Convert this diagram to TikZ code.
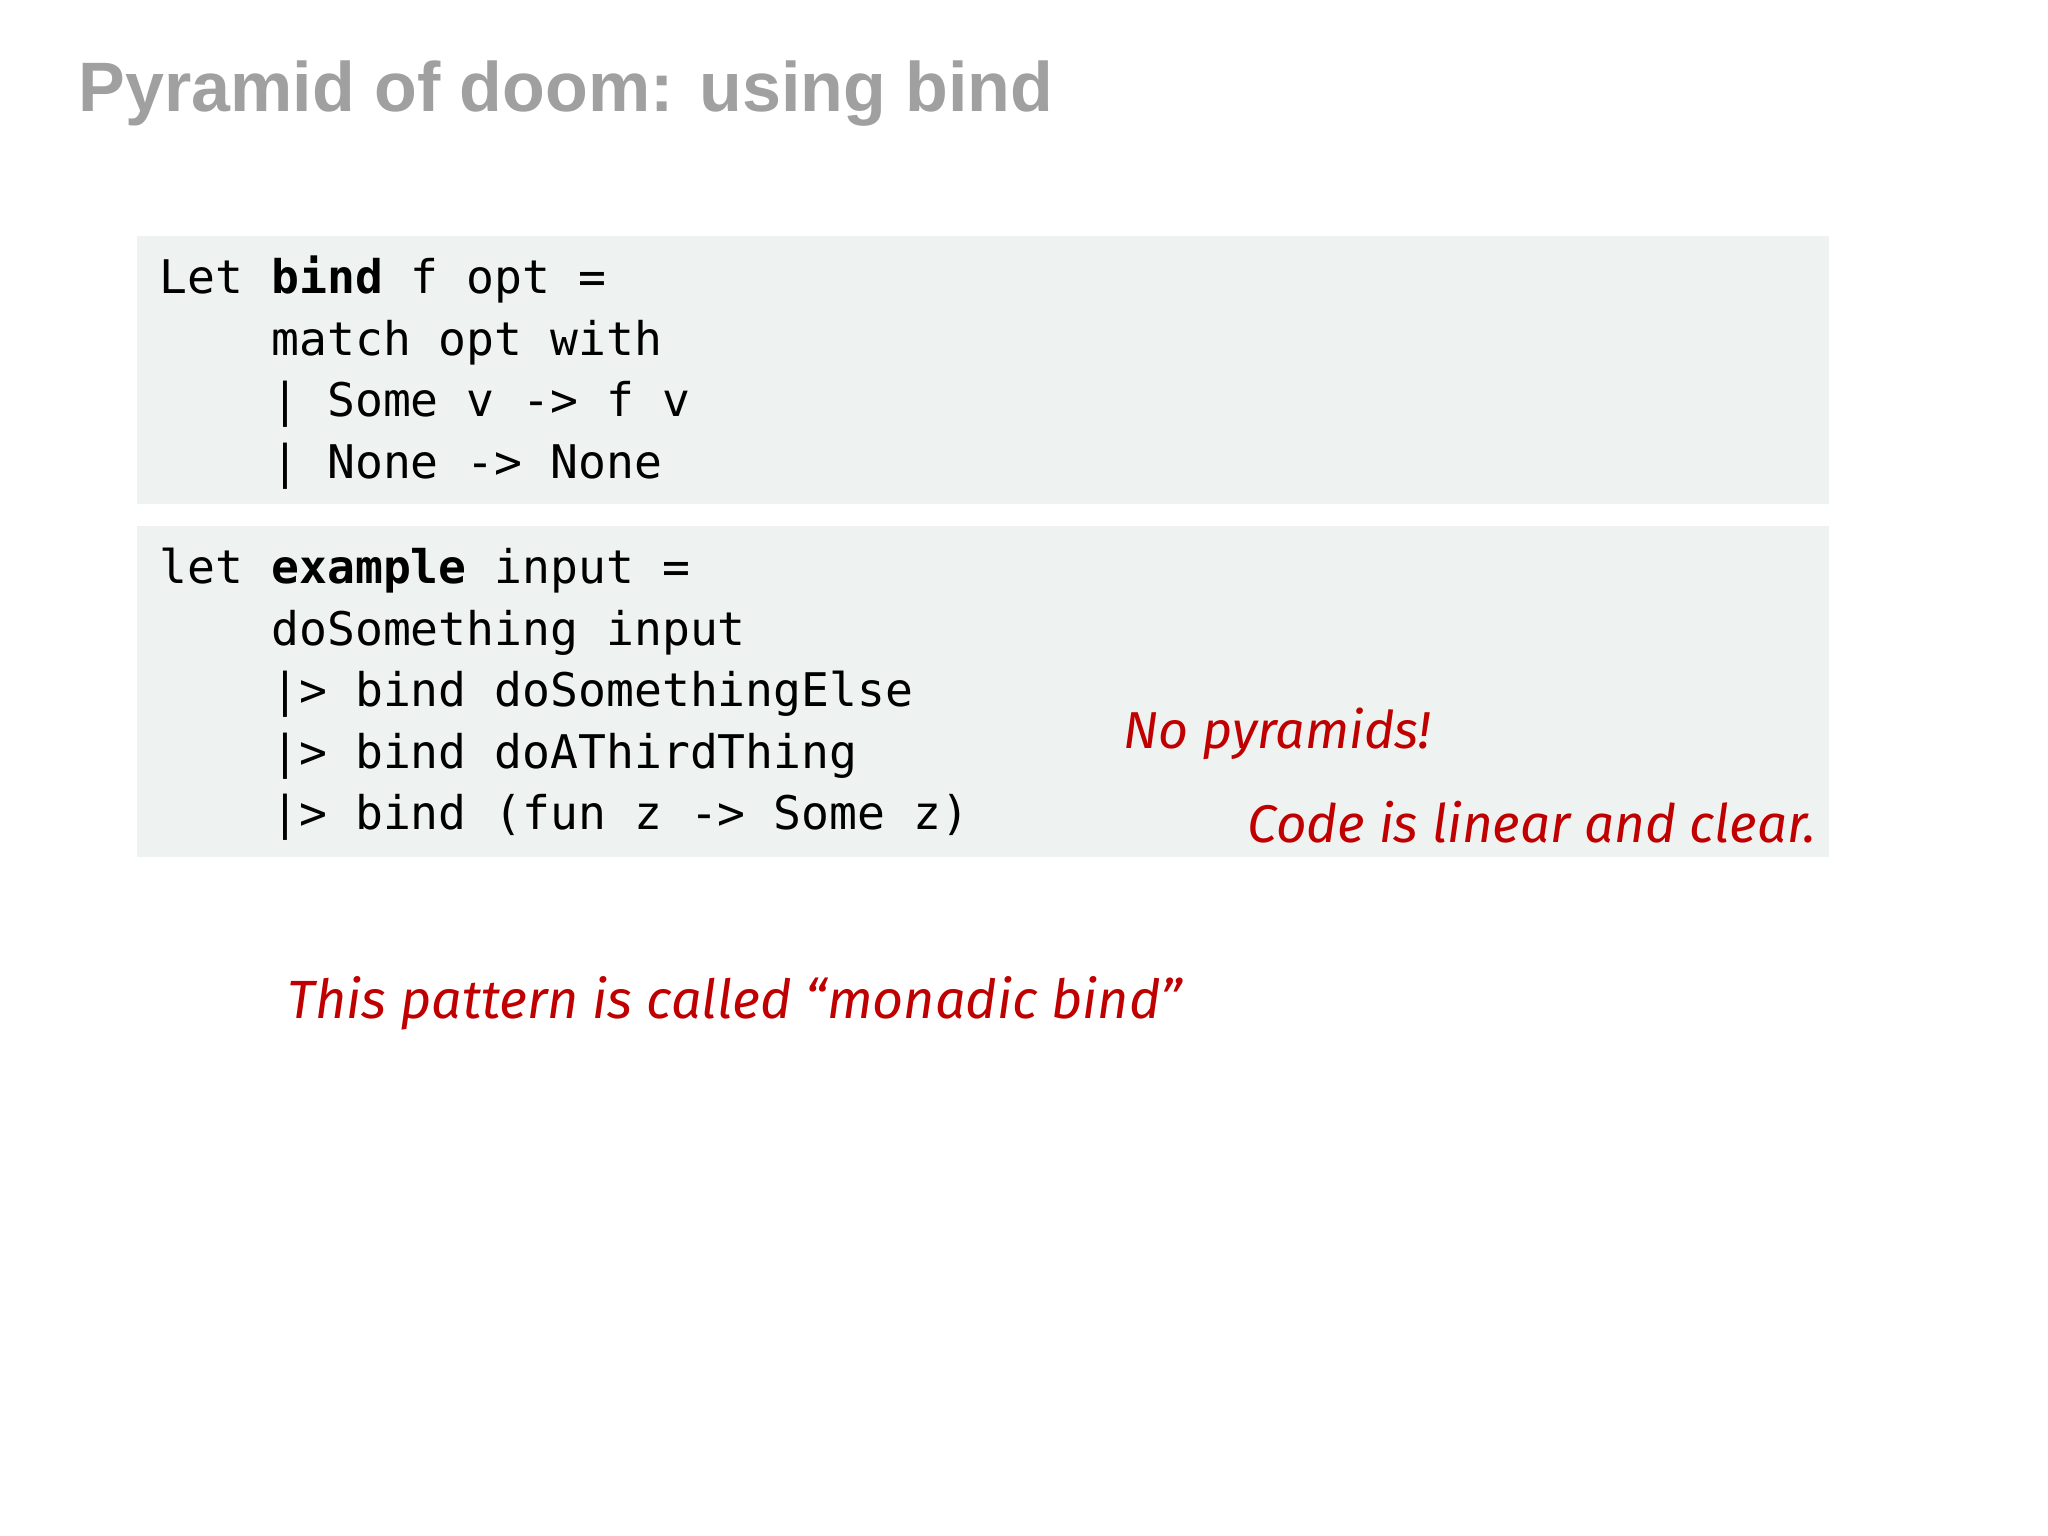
\documentclass[tikz,border=0pt]{standalone}
\usepackage{fontspec}
\setmainfont{Liberation Sans}
\setmonofont{DejaVu Sans Mono}
\newfontfamily\handfont{Fira Sans}
\definecolor{codebg}{HTML}{EEF2F1}
\definecolor{hand}{HTML}{C00000}
\definecolor{titlegray}{HTML}{A0A0A0}
\begin{document}
\begin{tikzpicture}[x=0.02cm,y=-0.02cm,
  code/.style={anchor=base west,inner sep=0pt,font=\ttfamily\fontsize{20.2}{24}\selectfont},
  handtxt/.style={anchor=base west,inner sep=0pt,text=hand,font=\handfont\itshape\fontsize{26}{30}\selectfont},
  box/.style={fill=codebg,draw=none}]
\useasboundingbox[fill=white] (0,0) rectangle (1568,1176);
\node[anchor=base west,inner sep=0pt,text=titlegray,font=\bfseries\fontsize{30.5}{36}\selectfont] (title) at (60,85) {Pyramid of doom: using bind};
\fill[codebg] (105,181) rectangle (1400,386);
\fill[codebg] (105,403) rectangle (1400,656);
\node[code] (a1) at (122,225) {Let \textbf{bind} f opt =};
\node[code] (a2) at (122,272) {\ \ \ \ match opt with};
\node[code] (a3) at (122,319) {\ \ \ \ | Some v -> f v};
\node[code] (a4) at (122,366) {\ \ \ \ | None -> None};
\node[code] (b1) at (122,447) {let \textbf{example} input =};
\node[code] (b2) at (122,494) {\ \ \ \ doSomething input};
\node[code] (b3) at (122,541) {\ \ \ \ |> bind doSomethingElse};
\node[code] (b4) at (122,588) {\ \ \ \ |> bind doAThirdThing};
\node[code] (b5) at (122,635) {\ \ \ \ |> bind (fun z -> Some z)};
\node[handtxt] (h1) at (860,573) {\resizebox{4.7cm}{!}{No pyramids!}};
\node[handtxt] (h2) at (955,645) {\resizebox{8.7cm}{!}{Code is linear and clear.}};
\node[handtxt] (h3) at (220,780) {\resizebox{13.7cm}{!}{This pattern is called “monadic bind”}};
\end{tikzpicture}
\end{document}
